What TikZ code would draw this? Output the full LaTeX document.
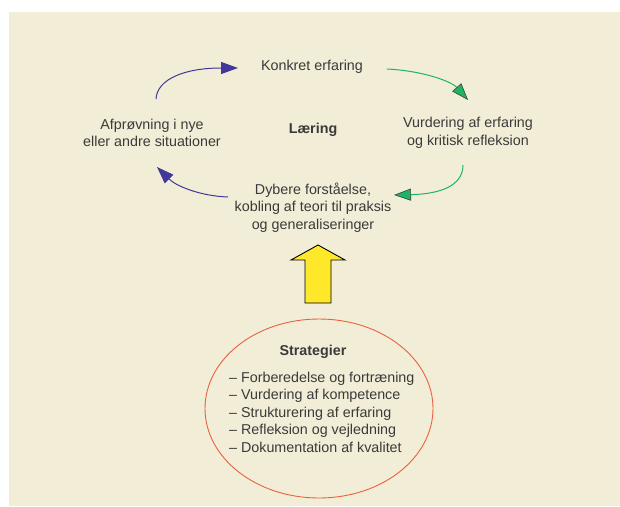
\documentclass[tikz,border=0pt]{standalone}
\usepackage{fontspec}
\setmainfont{Liberation Sans}
\usepackage{xcolor}
\usetikzlibrary{arrows.meta}
\definecolor{paper}{HTML}{F2EDD6}
\definecolor{ink}{HTML}{3A3A3A}
\definecolor{cycpurple}{HTML}{41389A}
\definecolor{cycgreen}{HTML}{1DB463}
\definecolor{ringred}{HTML}{EA6040}
\definecolor{upyellow}{HTML}{FFE82A}
\tikzset{
  lab/.style={text=ink, font=\fontsize{14.3}{17.5}\selectfont, align=center, inner sep=0pt},
  head/.style={lab, font=\fontsize{14.3}{17.5}\selectfont\bfseries},
  listlab/.style={lab, align=left},
  pcurve/.style={draw=cycpurple, line width=1pt, -{Triangle[length=17pt,width=12pt]}},
  gcurve/.style={draw=cycgreen, line width=1pt,
    -{Triangle[length=17pt,width=12pt,fill=cycgreen,color=black!75,line width=0.6pt]}},
  uparrow/.style={draw=black, fill=upyellow, line width=0.9pt, line join=miter},
  ring/.style={draw=ringred, line width=0.9pt},
}

\begin{document}
\begin{tikzpicture}[x=1pt, y=-1pt]
  \useasboundingbox (0,0) rectangle (620,506);
  \fill[paper] (9,12) rectangle (620,506);

  % learning cycle
  \node[lab] (konkret) at (312,67) {Konkret erfaring};
  \node[lab] (vurd) at (468,133) {Vurdering af erfaring\\og kritisk refleksion};
  \node[lab] (dyb) at (313,207.5) {Dybere forståelse,\\kobling af teori til praksis\\og generaliseringer};
  \node[lab] (afpr) at (152,133) {Afprøvning i nye\\eller andre situationer};
  \node[head] (laer) at (313,130) {Læring};

  \coordinate (a1) at (156,99);  \coordinate (a2) at (238,68);
  \coordinate (b1) at (387,69);  \coordinate (b2) at (468,100);
  \coordinate (c1) at (463,165); \coordinate (c2) at (394,195);
  \coordinate (d1) at (228,197); \coordinate (d2) at (157,167);

  \draw[pcurve] (a1) .. controls (157,79) and (185,68) .. (a2);
  \draw[gcurve] (b1) .. controls (425,71) and (452,82) .. (b2);
  \draw[gcurve] (c1) .. controls (463,186) and (440,194) .. (c2);
  \draw[pcurve] (d1) .. controls (200,196) and (176,186) .. (d2);

  % strategies feeding the cycle
  \coordinate (tip) at (318,245);
  \draw[uparrow] (305,303) -- (305,260) -- (291,260) -- (tip)
    -- (345,260) -- (331,260) -- (331,303) -- cycle;

  \draw[ring] (319,408.5) ellipse [x radius=114pt, y radius=89.5pt];
  \node[head] (strat) at (313,352) {Strategier};
  \node[listlab, anchor=west] (strlist) at (229,412) {%
    – Forberedelse og fortræning\\
    – Vurdering af kompetence\\
    – Strukturering af erfaring\\
    – Refleksion og vejledning\\
    – Dokumentation af kvalitet};
\end{tikzpicture}
\end{document}
